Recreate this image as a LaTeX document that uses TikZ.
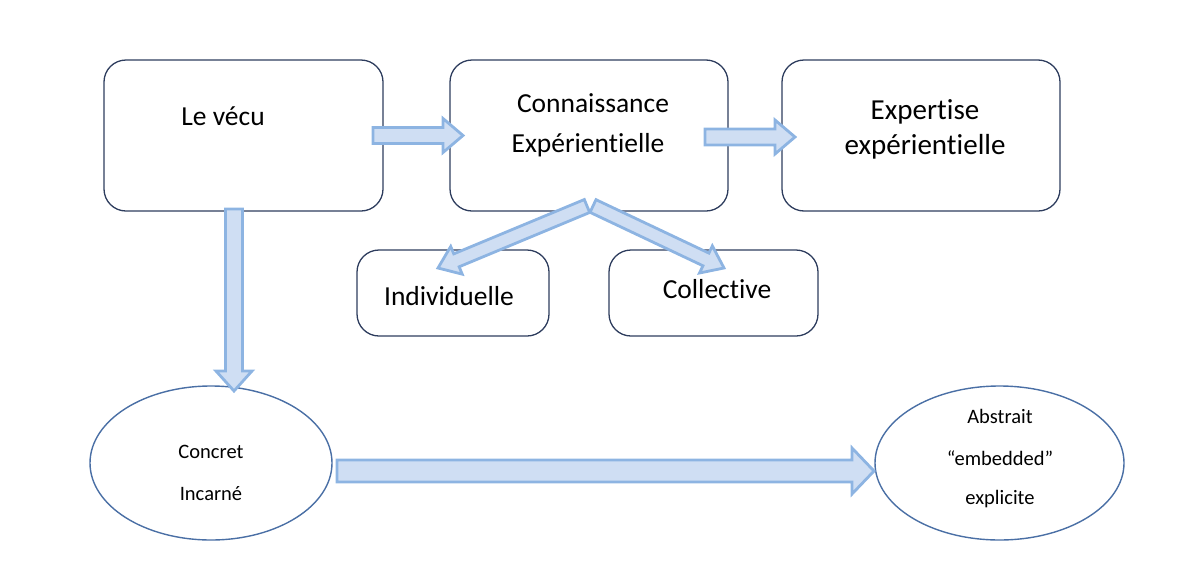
\documentclass[tikz,border=0pt]{standalone}
\usepackage{fontspec}
\setmainfont{Carlito}[Ligatures={NoCommon}]
\usetikzlibrary{calc,shapes.geometric}

\definecolor{boxline}{HTML}{2E3D5E}
\definecolor{ellline}{HTML}{4A6FA5}
\definecolor{arrline}{HTML}{8DB4E2}
\definecolor{arrfill}{HTML}{CFDEF3}

% keeps "t" and "i" as separate glyphs
\newcommand\ti{t\kern0pt i}

% Block arrow: tail, tip, shaft half-width, head half-width, head length
\newcommand\blockarrow[5]{%
  \coordinate (ba-h) at ($(#2)!#5!(#1)$);
  \draw[fatarrow] ($(#1)!#3!90:(#2)$) -- ($(ba-h)!#3!-90:(#1)$)
    -- ($(ba-h)!#4!-90:(#1)$) -- (#2) -- ($(ba-h)!#4!90:(#1)$)
    -- ($(ba-h)!#3!90:(#1)$) -- ($(#1)!#3!-90:(#2)$) -- cycle;
}

\tikzset{
  box/.style={draw=boxline, line width=1.3pt, rounded corners=22pt},
  oval/.style={ellipse, draw=ellline, line width=1.4pt},
  fatarrow/.style={draw=arrline, fill=arrfill, line width=2.8pt, line join=miter},
  bigtext/.style={font=\fontsize{27.5}{33}\selectfont, anchor=base, inner sep=0pt},
  hugetext/.style={font=\fontsize{29}{35}\selectfont, anchor=base, inner sep=0pt},
  smalltext/.style={font=\fontsize{20.5}{25}\selectfont, anchor=base, inner sep=0pt},
}

\begin{document}
\begin{tikzpicture}[x=1pt, y=-1pt]
\useasboundingbox (0,0) rectangle (1201,576);

% rounded boxes
\node[box, minimum width=279pt, minimum height=151pt] (vecu) at (243.5,135.5) {};
\node[box, minimum width=278pt, minimum height=151pt] (conn) at (589,135.5) {};
\node[box, minimum width=278pt, minimum height=151pt] (expe) at (921,135.5) {};
\node[box, minimum width=192pt, minimum height=86pt] (indi) at (453,293) {};
\node[box, minimum width=209pt, minimum height=86pt] (coll) at (713.5,293) {};

% ellipses
\node[oval, minimum width=242pt, minimum height=154pt] (conc) at (211,463) {};
\node[oval, minimum width=249pt, minimum height=154pt] (abst) at (999.5,463) {};

% labels
\node[bigtext] (t-vecu) at (223,125) {Le vécu};
\node[bigtext] (t-conn1) at (593,112) {Connaissance};
\node[bigtext] (t-conn2) at (588,152) {Expérien\ti elle};
\node[hugetext] (t-expe1) at (925,119) {Expertise};
\node[hugetext] (t-expe2) at (925,154) {expérien\ti elle};
\node[bigtext] (t-indi) at (449,305) {Individuelle};
\node[bigtext] (t-coll) at (717,298) {Collec\ti ve};
\node[smalltext] (t-conc1) at (211,458) {Concret};
\node[smalltext] (t-conc2) at (211,500) {Incarné};
\node[smalltext] (t-abst1) at (1000,423) {Abstrait};
\node[smalltext] (t-abst2) at (1000,465) {“embedded”};
\node[smalltext] (t-abst3) at (1000,504) {explicite};

% arrow end points
\coordinate (a1s) at (373,135.5);
\coordinate (a1e) at (463,135.5);
\coordinate (a2s) at (705,137);
\coordinate (a2e) at (795,137);
\coordinate (a3s) at (234,209);
\coordinate (a3e) at (234,391);
\coordinate (a4s) at (337,471);
\coordinate (a4e) at (874,471);
\coordinate (a5s) at (587,206);
\coordinate (a5e) at (438,268);
\coordinate (a6s) at (593,206);
\coordinate (a6e) at (724,268);

% block arrows
\blockarrow{a1s}{a1e}{8pt}{17pt}{20pt}
\blockarrow{a2s}{a2e}{8pt}{17pt}{20pt}
\blockarrow{a3s}{a3e}{8.5pt}{18pt}{20pt}
\blockarrow{a4s}{a4e}{11pt}{23pt}{22pt}
\blockarrow{a5s}{a5e}{7pt}{15pt}{20pt}
\blockarrow{a6s}{a6e}{7pt}{15pt}{20pt}
\end{tikzpicture}
\end{document}
